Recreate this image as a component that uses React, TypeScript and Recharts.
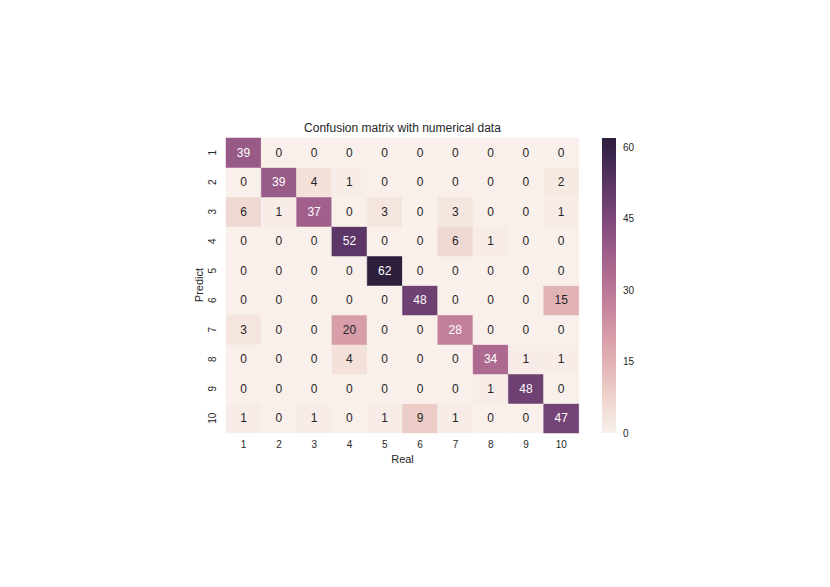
import { Bar, BarChart, Cell, LabelList, XAxis, YAxis } from 'recharts'

// Confusion matrix: one array per predicted class, values by real class 1..10
const predict1 = [39, 0, 0, 0, 0, 0, 0, 0, 0, 0]
const predict2 = [0, 39, 4, 1, 0, 0, 0, 0, 0, 2]
const predict3 = [6, 1, 37, 0, 3, 0, 3, 0, 0, 1]
const predict4 = [0, 0, 0, 52, 0, 0, 6, 1, 0, 0]
const predict5 = [0, 0, 0, 0, 62, 0, 0, 0, 0, 0]
const predict6 = [0, 0, 0, 0, 0, 48, 0, 0, 0, 15]
const predict7 = [3, 0, 0, 20, 0, 0, 28, 0, 0, 0]
const predict8 = [0, 0, 0, 4, 0, 0, 0, 34, 1, 1]
const predict9 = [0, 0, 0, 0, 0, 0, 0, 1, 48, 0]
const predict10 = [1, 0, 1, 0, 1, 9, 1, 0, 0, 47]

const realLabels = ['1', '2', '3', '4', '5', '6', '7', '8', '9', '10']
const predictLabels = ['1', '2', '3', '4', '5', '6', '7', '8', '9', '10']
const colorbarTicks = [0, 15, 30, 45, 60]

const matrix = [predict1, predict2, predict3, predict4, predict5, predict6, predict7, predict8, predict9, predict10]
const vmax = Math.max(...matrix.flat())

const FONT = "'Liberation Sans', Arial, sans-serif"
const TEXT = '#262626'

// seaborn cubehelix_palette(light=.95, dark=.15)
const clamp = (v: number) => Math.min(1, Math.max(0, v))
const cubehelix = (x: number) => {
  const a = (0.8 * x * (1 - x)) / 2
  const phi = 2 * Math.PI * (0.4 * x)
  const f = (p0: number, p1: number) => clamp(x + a * (p0 * Math.cos(phi) + p1 * Math.sin(phi)))
  return [f(-0.14861, 1.78277), f(-0.29227, -0.90649), f(1.97294, 0)]
}
const toHex = (rgb: number[]) =>
  '#' + rgb.map(c => Math.round(c * 255).toString(16).padStart(2, '0')).join('')

const colorFor = (v: number) => {
  const t = Math.min(255, Math.floor((v / vmax) * 256)) / 255
  return cubehelix(0.95 + (0.15 - 0.95) * t)
}

const luminance = (rgb: number[]) => {
  const lin = rgb.map(c => (c <= 0.03928 ? c / 12.92 : ((c + 0.055) / 1.055) ** 2.4))
  return lin[0] * 0.2126 + lin[1] * 0.7152 + lin[2] * 0.0722
}

// stacked bars: series k is drawn from the bottom, so it holds predicted row 10 - k
const seriesKeys = predictLabels.map((_, k) => `s${k}`)
const rowOf = (k: number) => predictLabels.length - 1 - k

const chartData = realLabels.map(real => {
  const d: Record<string, string | number> = { real }
  seriesKeys.forEach(key => { d[key] = 1 })
  return d
})

const colorbarData = [{ name: 'cb', value: vmax }]
const gradientStops = Array.from({ length: 21 }, (_, i) => i / 20)

const YTick = ({ x, y, payload }: any) => (
  <text
    x={x}
    y={y}
    transform={`rotate(-90 ${x} ${y})`}
    textAnchor="middle"
    dominantBaseline="central"
    fontSize={10}
    fill={TEXT}
    fontFamily={FONT}
  >
    {predictLabels[predictLabels.length - 1 - Math.floor(payload.value)]}
  </text>
)

const makeLabel = (k: number) => (props: any) => {
  const { x, y, width, height, index } = props
  const v = matrix[rowOf(k)][index]
  const fill = luminance(colorFor(v)) > 0.408 ? TEXT : '#ffffff'
  return (
    <text
      x={x + width / 2}
      y={y + height / 2}
      textAnchor="middle"
      dominantBaseline="central"
      fontSize={12}
      fill={fill}
      fontFamily={FONT}
    >
      {v}
    </text>
  )
}

export default function App() {
  return (
    <div style={{ position: 'absolute', left: 0, top: 0, width: 830, height: 587, background: '#fff', fontFamily: FONT }}>
      <div style={{ position: 'absolute', left: 226, width: 353, top: 121, textAlign: 'center', fontSize: 12, color: TEXT, lineHeight: '14px' }}>
        Confusion matrix with numerical data
      </div>
      <svg style={{ position: 'absolute', left: 0, top: 0 }} width={830} height={587}>
        <text x={199} y={285} transform="rotate(-90 199 285)" textAnchor="middle" dominantBaseline="central" fontSize={11} fill={TEXT} fontFamily={FONT}>
          Predict
        </text>
      </svg>

      <div style={{ position: 'absolute', left: 0, top: 0 }}>
        <BarChart
          width={830}
          height={587}
          data={chartData}
          margin={{ top: 138, right: 251, bottom: 124, left: 196 }}
          barCategoryGap={0}
          barGap={0}
        >
          <XAxis
            dataKey="real"
            height={30}
            axisLine={false}
            tickLine={false}
            tickSize={0}
            tickMargin={8}
            tick={{ fontSize: 10, fill: TEXT, fontFamily: FONT }}
            label={{ value: 'Real', position: 'insideBottom', offset: 0, fontSize: 11, fill: TEXT, fontFamily: FONT }}
          />
          <YAxis
            type="number"
            width={30}
            domain={[0, 10]}
            ticks={[0.5, 1.5, 2.5, 3.5, 4.5, 5.5, 6.5, 7.5, 8.5, 9.5]}
            axisLine={false}
            tickLine={false}
            tickSize={0}
            tickMargin={14}
            tick={<YTick />}
          />
          {seriesKeys.map((key, k) => (
            <Bar key={key} dataKey={key} stackId="m" isAnimationActive={false}>
              {chartData.map((_, j) => {
                const c = toHex(colorFor(matrix[rowOf(k)][j]))
                return <Cell key={j} fill={c} stroke={c} strokeWidth={0.5} />
              })}
              <LabelList dataKey={key} content={makeLabel(k)} />
            </Bar>
          ))}
        </BarChart>
      </div>

      <div style={{ position: 'absolute', left: 602, top: 128 }}>
        <BarChart
          width={50}
          height={315}
          data={colorbarData}
          margin={{ top: 10, right: 0, bottom: 10, left: 0 }}
          barCategoryGap={0}
        >
          <defs>
            <linearGradient id="cbGradient" x1="0" y1="1" x2="0" y2="0">
              {gradientStops.map(s => (
                <stop key={s} offset={`${s * 100}%`} stopColor={toHex(colorFor(s * vmax))} />
              ))}
            </linearGradient>
          </defs>
          <XAxis dataKey="name" hide />
          <YAxis
            orientation="right"
            type="number"
            width={36}
            domain={[0, vmax]}
            ticks={colorbarTicks}
            axisLine={false}
            tickLine={false}
            tickSize={0}
            tickMargin={7}
            tick={{ fontSize: 10, fill: TEXT, fontFamily: FONT, textAnchor: 'start' }}
          />
          <Bar dataKey="value" fill="url(#cbGradient)" isAnimationActive={false} />
        </BarChart>
      </div>
    </div>
  )
}
